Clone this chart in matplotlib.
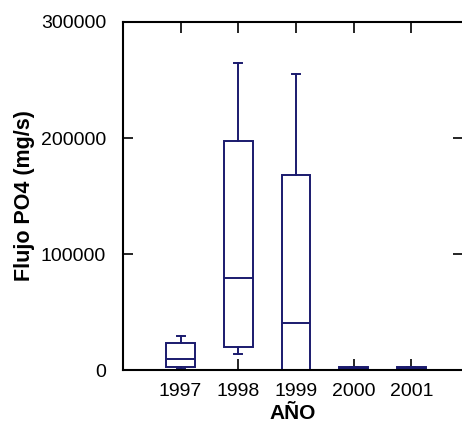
import matplotlib.pyplot as plt

plt.rcParams['font.family'] = ['Liberation Sans', 'DejaVu Sans']

years = [1997, 1998, 1999, 2000, 2001]
q1 = [2300, 19500, 0, 0, 0]
med = [9200, 79600, 40800, 1000, 1000]
q3 = [23500, 197400, 168400, 3000, 3000]
whislo = [800, 13500, 0, 0, 0]
whishi = [29300, 265000, 255200, 3000, 3000]
fills = ['white', 'white', 'white', '#1a1a80', '#1a1a80']

stats = []
for i in range(len(years)):
    stats.append({'med': med[i], 'q1': q1[i], 'q3': q3[i],
                  'whislo': whislo[i], 'whishi': whishi[i], 'fliers': []})

fig = plt.figure(figsize=(4.62, 4.28), dpi=100)
ax = fig.add_axes([0.266, 0.1355, 0.737, 0.8131])

navy = '#1a1a6e'
bp = ax.bxp(stats, positions=years, widths=0.5, patch_artist=True,
            showfliers=False, capwidths=0.14,
            boxprops=dict(color=navy, linewidth=1.4),
            whiskerprops=dict(color=navy, linewidth=1.4),
            capprops=dict(color=navy, linewidth=1.4),
            medianprops=dict(color=navy, linewidth=1.4))
for b, c in zip(bp['boxes'], fills):
    b.set_facecolor(c)

ax.set_xlim(1996, 2001.9)
ax.set_ylim(0, 300000)
ax.set_xticks(years)
ax.set_xticklabels([str(y) for y in years])
ax.set_yticks([0, 100000, 200000, 300000])
ax.set_yticklabels(['0', '100000', '200000', '300000'])
ax.tick_params(direction='in', length=8, width=1.2, labelsize=14,
               top=True, right=True, pad=9)
ax.tick_params(axis='y', length=7, pad=12)
for s in ax.spines.values():
    s.set_linewidth(1.5)

ax.set_xlabel('AÑO', fontsize=15, fontweight='bold', labelpad=3)
ax.set_ylabel('Flujo PO4 (mg/s)', fontsize=15.5, fontweight='bold', labelpad=4)

fig.savefig('out.png', dpi=100)
